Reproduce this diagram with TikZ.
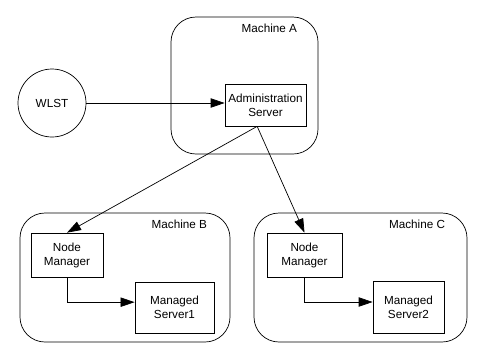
\documentclass[tikz,border=0pt]{standalone}
\usepackage{fontspec}
\setmainfont{Liberation Sans}
\usetikzlibrary{arrows.meta}

\begin{document}
\begin{tikzpicture}[x=0.03cm,y=-0.03cm,>={Triangle[length=4.2mm,width=2.8mm]},
  font=\fontsize{10}{12}\selectfont,line width=0.6pt,
  machine/.style={draw,rounded corners=0.75cm,inner sep=0},
  srv/.style={draw,align=center,inner sep=0},
  tag/.style={anchor=east,inner sep=0}]
\useasboundingbox (0,0) rectangle (481,350);
% machines
\node[machine,minimum width=4.41cm,minimum height=4.11cm] (ma) at (244.5,85.5) {};
\node[machine,minimum width=6.3cm,minimum height=3.87cm] (mb) at (125,277.5) {};
\node[machine,minimum width=6.39cm,minimum height=3.87cm] (mc) at (360.5,277.5) {};
\node[tag] (ta) at ([xshift=-0.63cm,yshift=-0.36cm]ma.north east) {Machine A};
\node[tag] (tb) at ([xshift=-0.69cm,yshift=-0.36cm]mb.north east) {Machine B};
\node[tag] (tc) at ([xshift=-0.66cm,yshift=-0.36cm]mc.north east) {Machine C};
% servers
\node[draw,circle,minimum size=2.04cm,inner sep=0] (wlst) at (52,103) {WLST};
\node[srv,minimum width=2.43cm,minimum height=1.26cm] (admin) at (265.5,105) {Administration\\Server};
\node[srv,minimum width=2.16cm,minimum height=1.32cm] (nmb) at (67,255) {Node\\Manager};
\node[srv,minimum width=2.37cm,minimum height=1.53cm] (msb) at (174.5,307.5) {Managed\\Server1};
\node[srv,minimum width=2.25cm,minimum height=1.32cm] (nmc) at (304.5,255) {Node\\Manager};
\node[srv,minimum width=2.13cm,minimum height=1.56cm] (msc) at (408.5,307) {Managed\\Server2};
% connectors
\coordinate (out) at ([xshift=-0.25cm]admin.south);
\draw[->] (wlst.east) -- (wlst.east -| admin.west);
\draw[->] (out) -- (nmb.north);
\draw[->] (out) -- (nmc.north);
\draw[->] (nmb.south) |- ([yshift=0.16cm]msb.west);
\draw[->] (nmc.south) |- ([yshift=0.15cm]msc.west);
\end{tikzpicture}
\end{document}
